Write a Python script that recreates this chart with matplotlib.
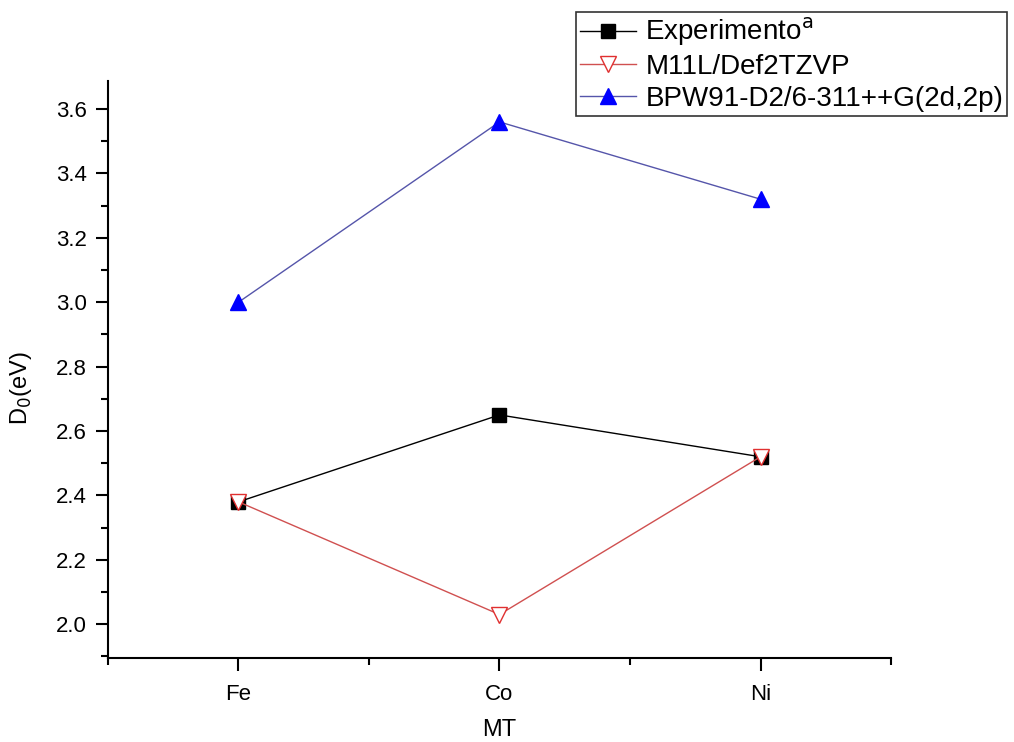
import numpy as np
import matplotlib
matplotlib.use('Agg')
import matplotlib.pyplot as plt
from matplotlib.ticker import MultipleLocator

plt.rcParams['font.family'] = ['Liberation Sans', 'DejaVu Sans']

# metals on the x axis
metals = ['Fe', 'Co', 'Ni']
xpos = [1, 2, 3]

# D0 values (eV)
exp_vals = [2.38, 2.65, 2.52]
m11l_vals = [2.38, 2.03, 2.52]
bpw_vals = [3.00, 3.56, 3.32]

fig = plt.figure(figsize=(10.14, 7.42), dpi=100)
ax = fig.add_axes([0.1065, 0.1132, 0.7722, 0.7776])

ax.plot(xpos, exp_vals, '-', color='black', lw=1.0, marker='s', ms=10,
        mfc='black', mec='black', label='Experimento$^{\\mathrm{a}}$')
ax.plot(xpos, m11l_vals, '-', color='#d05050', lw=1.0, marker='v', ms=11,
        mfc='white', mec='#e03030', mew=1.0, label='M11L/Def2TZVP')
ax.plot(xpos, bpw_vals, '-', color='#5555aa', lw=1.0, marker='^', ms=11,
        mfc='#0000ff', mec='#0000ff', label='BPW91-D2/6-311++G(2d,2p)')

ax.set_xlim(0.5, 3.5)
ax.set_ylim(1.895, 3.687)
ax.set_xticks(xpos)
ax.set_xticklabels(metals)
ax.xaxis.set_minor_locator(MultipleLocator(0.5))
ax.yaxis.set_major_locator(MultipleLocator(0.2))
ax.yaxis.set_minor_locator(MultipleLocator(0.1))
ax.yaxis.set_major_formatter(matplotlib.ticker.FormatStrFormatter('%.1f'))

ax.spines['top'].set_visible(False)
ax.spines['right'].set_visible(False)
for s in ['left', 'bottom']:
    ax.spines[s].set_linewidth(1.5)

ax.tick_params(which='major', direction='out', length=9, width=1.5, labelsize=16, pad=6)
ax.tick_params(which='minor', direction='out', length=5, width=1.5)
ax.tick_params(axis='x', pad=10)

ax.set_xlabel('MT', fontsize=17)
ax.set_ylabel('D$_0$(eV)', fontsize=17)
ax.xaxis.set_label_coords(0.5, -0.106)
ax.yaxis.set_label_coords(-0.094, 0.468)

leg = fig.legend(loc='upper left', bbox_to_anchor=(0.568, 0.984), fontsize=20,
                 frameon=True, fancybox=False, handlelength=2.0, handletextpad=0.35,
                 borderpad=0.15, labelspacing=0.2, borderaxespad=0)
leg.get_frame().set_edgecolor('black')
leg.get_frame().set_linewidth(1.2)

fig.savefig('out.png', dpi=100)
